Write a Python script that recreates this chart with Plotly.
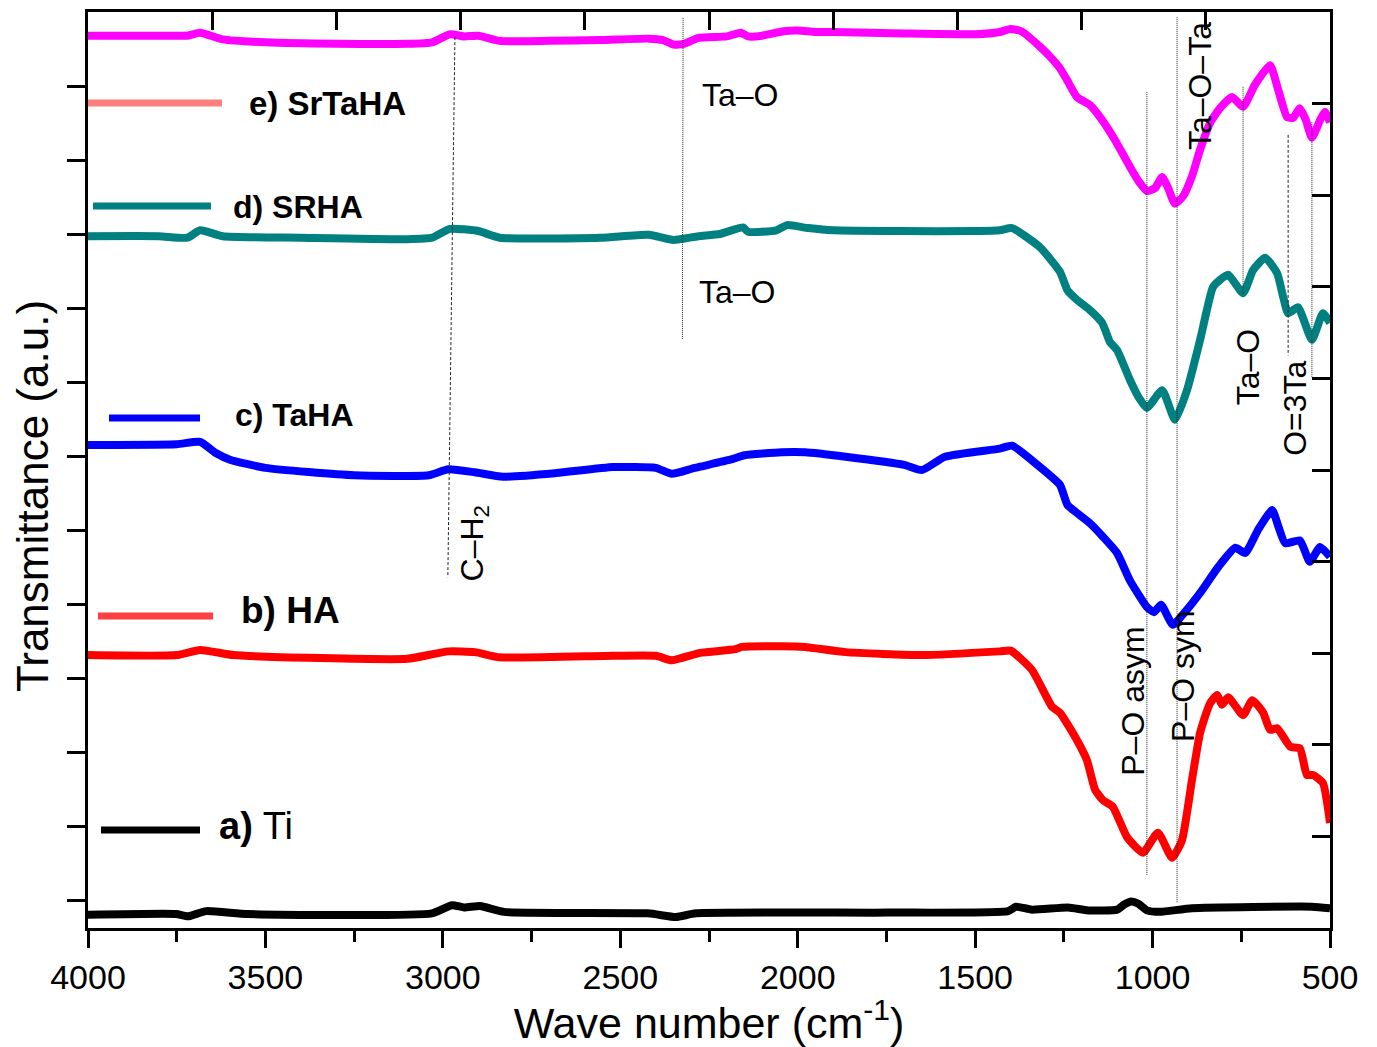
import plotly.graph_objects as go

# ---------------- data (wave number in cm^-1, transmittance in a.u.) ----------------
wn_a = [4000, 3752, 3718, 3667, 3549, 3031, 2974, 2940, 2895, 2828, 2422, 2343, 2287, 1746,
        1407, 1385, 1340, 1238, 1182, 1100, 1080, 1060, 1040, 1016, 979, 889, 551, 500]
t_a = [-0.20, -0.19, -0.22, -0.15, -0.19, -0.18, -0.07, -0.10, -0.08, -0.16, -0.18, -0.23, -0.18, -0.17,
       -0.15, -0.09, -0.13, -0.10, -0.14, -0.13, -0.06, -0.02, -0.05, -0.14, -0.16, -0.11, -0.09, -0.11]

wn_b = [4000, 3750, 3684, 3590, 3350, 3100, 2985, 2910, 2840, 2520,
        2400, 2355, 2275, 2175, 2158, 2045, 1980, 1865, 1650, 1430,
        1400, 1340, 1283, 1261, 1213, 1185, 1162, 1140, 1112, 1072,
        1027, 985, 945, 917, 889, 866, 838, 818, 804, 787,
        745, 719, 688, 669, 649, 612, 585, 565, 548, 520, 500]
t_b = [3.31, 3.31, 3.38, 3.31, 3.27, 3.26, 3.36, 3.35, 3.28, 3.30,
       3.30, 3.24, 3.34, 3.39, 3.42, 3.43, 3.42, 3.35, 3.31, 3.36,
       3.37, 3.11, 2.61, 2.53, 2.16, 1.89, 1.49, 1.35, 1.26, 0.85,
       0.64, 0.91, 0.57, 0.81, 1.62, 2.26, 2.66, 2.77, 2.64, 2.74,
       2.50, 2.70, 2.53, 2.30, 2.32, 2.07, 2.05, 1.69, 1.69, 1.58, 1.04]

wn_c = [4000, 3750, 3684, 3640, 3600, 3500, 3250, 3040, 2985, 2910,
        2830, 2680, 2520, 2400, 2355, 2290, 2190, 2150, 2045, 1980,
        1865, 1700, 1650, 1585, 1430, 1396, 1317, 1261, 1240, 1213,
        1176, 1140, 1100, 1064, 1016, 996, 976, 943, 909, 866,
        815, 767, 739, 703, 663, 645, 626, 585, 557, 528, 500]
t_c = [6.15, 6.16, 6.19, 6.04, 5.95, 5.84, 5.74, 5.74, 5.82, 5.78,
       5.72, 5.77, 5.85, 5.84, 5.76, 5.84, 5.95, 6.01, 6.05, 6.05,
       5.99, 5.88, 5.81, 5.99, 6.10, 6.14, 5.85, 5.61, 5.34, 5.23,
       5.09, 4.91, 4.69, 4.32, 3.96, 3.89, 3.99, 3.72, 3.89, 4.15,
       4.50, 4.76, 4.69, 5.00, 5.27, 5.04, 4.82, 4.86, 4.57, 4.77, 4.64]

wn_d = [4000, 3800, 3720, 3684, 3620, 3400, 3100, 3030, 2980, 2900,
        2840, 2557, 2420, 2350, 2280, 2220, 2154, 2140, 2060, 2030,
        1970, 1900, 1712, 1500, 1430, 1396, 1317, 1261, 1240, 1213,
        1176, 1142, 1120, 1100, 1064, 1040, 1016, 973, 937, 903,
        866, 830, 810, 787, 745, 717, 683, 649, 632, 618,
        590, 551, 520, 500]
t_d = [8.97, 8.97, 8.95, 9.05, 8.97, 8.95, 8.93, 8.95, 9.07, 9.04,
       8.95, 8.95, 8.99, 8.92, 8.97, 9.00, 9.09, 9.03, 9.05, 9.12,
       9.08, 9.05, 9.04, 9.04, 9.05, 9.08, 8.82, 8.49, 8.24, 8.11,
       7.97, 7.80, 7.54, 7.43, 7.03, 6.80, 6.65, 6.89, 6.49, 6.89,
       7.57, 8.28, 8.38, 8.45, 8.20, 8.51, 8.68, 8.47, 8.15, 7.93,
       8.01, 7.57, 7.93, 7.80]

wn_e = [4000, 3800, 3720, 3684, 3620, 3500, 3300, 3100, 3030, 2980,
        2940, 2900, 2840, 2700, 2557, 2420, 2380, 2350, 2320, 2280,
        2200, 2160, 2140, 2100, 2040, 2000, 1950, 1900, 1700, 1500,
        1430, 1400, 1370, 1317, 1280, 1261, 1241, 1213, 1176, 1142,
        1106, 1064, 1036, 1016, 993, 973, 956, 937, 914, 889,
        866, 838, 810, 776, 745, 711, 669, 646, 621, 604,
        585, 568, 551, 528, 514, 500]
t_e = [11.68, 11.68, 11.68, 11.72, 11.63, 11.59, 11.57, 11.57, 11.59, 11.70,
       11.67, 11.68, 11.61, 11.61, 11.62, 11.64, 11.62, 11.56, 11.57, 11.65,
       11.67, 11.72, 11.67, 11.68, 11.74, 11.75, 11.73, 11.73, 11.71, 11.70,
       11.73, 11.77, 11.74, 11.53, 11.35, 11.24, 11.08, 10.85, 10.74, 10.54,
       10.27, 9.91, 9.69, 9.58, 9.62, 9.77, 9.62, 9.41, 9.51, 9.78,
       10.14, 10.50, 10.70, 10.85, 10.72, 11.02, 11.28, 10.95, 10.58, 10.57,
       10.70, 10.54, 10.30, 10.54, 10.65, 10.51]

series_labels = ["<b>a)</b> Ti", "<b>b) HA</b>", "<b>c) TaHA</b>", "<b>d) SRHA</b>", "<b>e) SrTaHA</b>"]
series_colors = ["#000000", "#FF0000", "#0000FF", "#008080", "#FF00FF"]
legend_colors = ["#000000", "#FF4040", "#0000FF", "#008080", "#FF7F7F"]

# band assignment guide lines: wave number at top/bottom, transmittance at top/bottom
guide_wn_top = [2966, 2323, 1016, 931, 745, 618, 551]
guide_wn_bot = [2986, 2325, 1016, 931, 745, 618, 551]
guide_t_top = [11.66, 11.92, 10.92, 11.93, 10.99, 10.34, 10.51]
guide_t_bot = [4.36, 7.57, 0.34, -0.04, 8.18, 7.36, 7.05]
guide_dash = ["3px,2px", "1px,1px", "1px,1px", "1px,1px", "1px,1px", "3px,2px", "1px,1px"]

# band labels: text, wave number, transmittance, angle
band_text = ["Ta–O", "Ta–O", "C–H<sub>2</sub>", "Ta–O–Ta", "Ta–O", "O=3Ta", "P–O asym", "P–O sym"]
band_wn = [2275, 2284, 2912, 866, 731, 599, 1055, 914]
band_t = [10.88, 8.22, 4.82, 11.0, 7.2, 6.65, 2.68, 3.03]
band_angle = [0, 0, -90, -90, -90, -90, -90, -90]

x_ticks = [4000, 3500, 3000, 2500, 2000, 1500, 1000, 500]
x_minor = [3750, 3250, 2750, 2250, 1750, 1250, 750]
y_ticks = [0, 1, 2, 3, 4, 5, 6, 7, 8, 9, 10, 11]
frame_ticks = [0, 1, 2, 3, 4, 5, 6, 7, 8, 9, 10]

# ---------------- layout geometry ----------------
W, H = 1377, 1047
ML, MR, MT, MB = 88, 47, 12, 119
PW, PH = W - ML - MR, H - MT - MB
FONT = "Liberation Sans, Arial, Helvetica, sans-serif"


def px(x):
    return (x - ML) / PW


def py(y):
    return (H - MB - y) / PH


fig = go.Figure()
for wn, t, col in zip([wn_a, wn_b, wn_c, wn_d, wn_e], [t_a, t_b, t_c, t_d, t_e], series_colors):
    fig.add_trace(go.Scatter(x=wn, y=t, mode="lines",
                             line=dict(color=col, width=8, shape="spline", smoothing=0.5),
                             showlegend=False, hoverinfo="skip"))

# invisible trace to activate the frame axes (top/right)
fig.add_trace(go.Scatter(x=[5], y=[5], xaxis="x2", yaxis="y2", mode="markers",
                         marker=dict(opacity=0), showlegend=False, hoverinfo="skip"))

shapes = []
for x0, x1, y0, y1, d in zip(guide_wn_top, guide_wn_bot, guide_t_top, guide_t_bot, guide_dash):
    shapes.append(dict(type="line", xref="x", yref="y", x0=x0, x1=x1, y0=y0, y1=y1,
                       line=dict(color="#222222", width=1, dash=d)))

# legend swatches (pixel positions in the figure)
leg_line_x = [(101, 200), (98, 213), (109, 200), (93, 211), (88, 222)]
leg_line_y = [830, 616, 418, 206, 103]
leg_text_x = [217, 239, 233, 231, 247]
leg_text_y = [826, 610, 415, 207, 103]
leg_size = [38, 37, 32, 32, 33]
annotations = []
for (xa, xb), yl, tx, ty, sz, col, lab in zip(leg_line_x, leg_line_y, leg_text_x, leg_text_y,
                                               leg_size, legend_colors, series_labels):
    shapes.append(dict(type="line", xref="paper", yref="paper", x0=px(xa), x1=px(xb),
                       y0=py(yl), y1=py(yl), line=dict(color=col, width=7)))
    annotations.append(dict(xref="paper", yref="paper", x=px(tx), y=py(ty), text=lab,
                            showarrow=False, xanchor="left", yanchor="middle",
                            font=dict(family=FONT, size=sz, color="black")))

for txt, x, y, a in zip(band_text, band_wn, band_t, band_angle):
    annotations.append(dict(xref="x", yref="y", x=x, y=y, text=txt, textangle=a,
                            showarrow=False, xanchor="left" if a == 0 else "center",
                            yanchor="middle", font=dict(family=FONT, size=32, color="black")))

# y axis title (placed as rotated text to match its offset position)
annotations.append(dict(xref="paper", yref="paper", x=px(32), y=py(496),
                        text="Transmittance (a.u.)", textangle=-90, showarrow=False,
                        xanchor="center", yanchor="middle",
                        font=dict(family=FONT, size=44, color="black")))

axis_common = dict(showgrid=False, zeroline=False, showline=True, linecolor="black",
                   linewidth=3, tickcolor="black", tickwidth=3)

fig.update_layout(
    width=W, height=H,
    margin=dict(l=ML, r=MR, t=MT, b=MB, pad=0),
    paper_bgcolor="white", plot_bgcolor="white",
    font=dict(family=FONT, color="black"),
    xaxis=dict(range=[4000, 500], tickmode="array", tickvals=x_ticks,
               ticktext=[str(v) for v in x_ticks], ticks="outside", ticklen=17,
               tickfont=dict(size=34),
               minor=dict(tickmode="array", tickvals=x_minor, ticks="outside", ticklen=11,
                          tickwidth=3, tickcolor="black", showgrid=False),
               title=dict(text="Wave number (cm<sup>-1</sup>)", font=dict(size=43), standoff=12),
               automargin=False, **axis_common),
    yaxis=dict(range=[-0.378, 12.0], tickmode="array", tickvals=y_ticks, ticks="outside",
               ticklen=18, showticklabels=False, automargin=False, **axis_common),
    xaxis2=dict(overlaying="x", side="top", anchor="y", range=[0, 10], tickmode="array",
                tickvals=frame_ticks, ticks="inside", ticklen=18, showticklabels=False,
                automargin=False, **axis_common),
    yaxis2=dict(overlaying="y", side="right", anchor="x", range=[0, 10], tickmode="array",
                tickvals=frame_ticks, ticks="inside", ticklen=18, showticklabels=False,
                automargin=False, **axis_common),
    shapes=shapes,
    annotations=annotations,
    showlegend=False,
)

fig.write_html("out.html")
